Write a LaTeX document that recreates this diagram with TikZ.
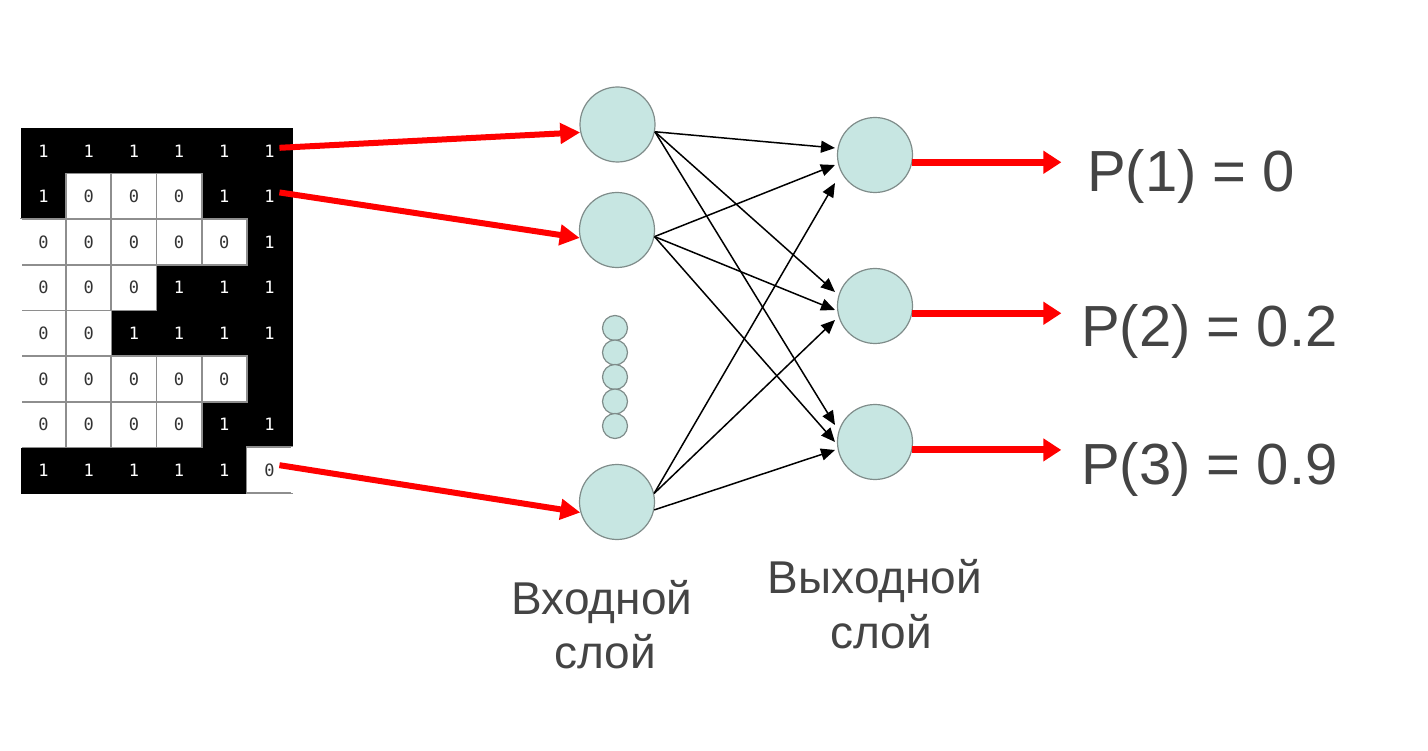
\documentclass[tikz,border=0pt]{standalone}
\usepackage{fontspec}
\setmainfont{Liberation Sans}
\newfontfamily\digitfont{DejaVu Sans Mono}
\usetikzlibrary{arrows.meta,calc}
\definecolor{neuronfill}{HTML}{C7E6E2}
\definecolor{neuronedge}{HTML}{7F8C8A}
\definecolor{labeltext}{HTML}{444444}
\definecolor{cellline}{HTML}{8E8E8E}
\definecolor{zerotext}{HTML}{333333}

\begin{document}
\begin{tikzpicture}[x=1pt,y=-1pt,
  cellbase/.style={minimum width=45.17pt,minimum height=45.625pt,inner sep=0pt,
    font=\digitfont\fontsize{17}{17}\selectfont},
  blackcell/.style={fill=black,draw=black,line width=0.6pt,text=white},
  whitecell/.style={fill=white,text=zerotext},
  cellborder/.style={draw=cellline,line width=1.5pt},
  neuron/.style={circle,fill=neuronfill,draw=neuronedge,line width=1.2pt,
    minimum size=75pt,inner sep=0pt},
  smallneuron/.style={neuron,minimum size=25pt},
  link/.style={line width=1.5pt,-{Triangle[length=14pt,width=12pt]}},
  feed/.style={red,line width=6pt,-{Triangle[length=20pt,width=20pt]}},
  result/.style={red,line width=7pt,-{Triangle[length=18pt,width=22pt]}},
  problabel/.style={text=labeltext,inner sep=0pt,anchor=base west,
    font=\fontsize{58}{60}\selectfont},
  layerlabel/.style={text=labeltext,inner sep=0pt,anchor=base,
    font=\fontsize{46}{48}\selectfont}
]
\useasboundingbox (0,0) rectangle (1428,751);

% binary image: 0 = white cell, 1 = black cell, 2 = black cell without digit
\foreach \row [count=\r] in {{1,1,1,1,1,1},{1,0,0,0,1,1},{0,0,0,0,0,1},{0,0,0,1,1,1},
                             {0,0,1,1,1,1},{0,0,0,0,0,2},{0,0,0,0,1,1},{1,1,1,1,1,0}}{
  \foreach \v [count=\c] in \row {
    \ifnum\v=0 \def\cellstyle{whitecell}\else\def\cellstyle{blackcell}\fi
    \node[cellbase,\cellstyle] (c-\r-\c) at ({21+45.17*(\c-0.5)},{128+45.625*(\r-0.5)})
      {\ifnum\v=2 \else\v\fi};
  }
}
% grey borders of the white cells
\foreach \r/\c in {2/2,2/3,2/4,3/1,3/2,3/3,3/4,3/5,4/1,4/2,4/3,5/1,5/2,
                   6/1,6/2,6/3,6/4,6/5,7/1,7/2,7/3,7/4,8/6}
  \draw[cellborder] (c-\r-\c.north west) rectangle (c-\r-\c.south east);
% open outer edges
\draw[white,line width=2pt] (c-3-1.north west) -- (c-7-1.south west);
\draw[white,line width=2pt] (c-8-6.north east) -- (c-8-6.south east);

% input layer
\node[neuron] (in1) at (617.5,124.5) {};
\node[neuron] (in2) at (617,230) {};
\foreach \k/\y in {1/328,2/352.5,3/377,4/401.5,5/426}
  \node[smallneuron] (dot\k) at (615,\y) {};
\node[neuron] (in3) at (617,502) {};

% output layer
\node[neuron] (out1) at (875,155) {};
\node[neuron] (out2) at (875,306) {};
\node[neuron] (out3) at (875,442) {};

% arrow ends in front of the output neurons: t-<output>-<input>
\coordinate (t-1-1) at ($(out1.center)+(-40,-7)$);
\coordinate (t-1-2) at ($(out1.center)+(-40,10)$);
\coordinate (t-1-3) at ($(out1.center)+(-40,28)$);
\coordinate (t-2-1) at ($(out2.center)+(-40,-14)$);
\coordinate (t-2-2) at ($(out2.center)+(-40,4)$);
\coordinate (t-2-3) at ($(out2.center)+(-40,14)$);
\coordinate (t-3-1) at ($(out3.center)+(-40,-17)$);
\coordinate (t-3-2) at ($(out3.center)+(-40,0)$);
\coordinate (t-3-3) at ($(out3.center)+(-40,8)$);

% full connections
\foreach \j in {1,2,3} \draw[link] (in1.-11) -- (t-\j-1);
\foreach \j in {1,2,3} \draw[link] (in2.-10) -- (t-\j-2);
\draw[link] (in3.13) -- (t-1-3);
\draw[link] (in3.13) -- (t-2-3);
\draw[link] (in3.-12) -- (t-3-3);

% pixels fed into the input neurons
\draw[feed] ($(c-1-6.center)+(10,-3)$) -- (in1.192);
\draw[feed] ($(c-2-6.center)+(10,-4)$) -- (in2.192);
\draw[feed] ($(c-8-6.center)+(10,-5)$) -- (in3.196);

% outputs
\draw[result] (out1.-11) -- ++(149,0);
\draw[result] (out2.-11) -- ++(149,0);
\draw[result] (out3.-12) -- ++(149,0);

\node[problabel] (p1) at (1087,192) {P(1) = 0};
\node[problabel] (p2) at (1081,347) {P(2) = 0.2};
\node[problabel] (p3) at (1081,484) {P(3) = 0.9};

\node[layerlabel] (inlabA) at (602,614) {Входной};
\node[layerlabel] (inlabB) at (605,668) {слой};
\node[layerlabel] (outlabA) at (875,593) {Выходной};
\node[layerlabel] (outlabB) at (881,648) {слой};
\end{tikzpicture}
\end{document}
